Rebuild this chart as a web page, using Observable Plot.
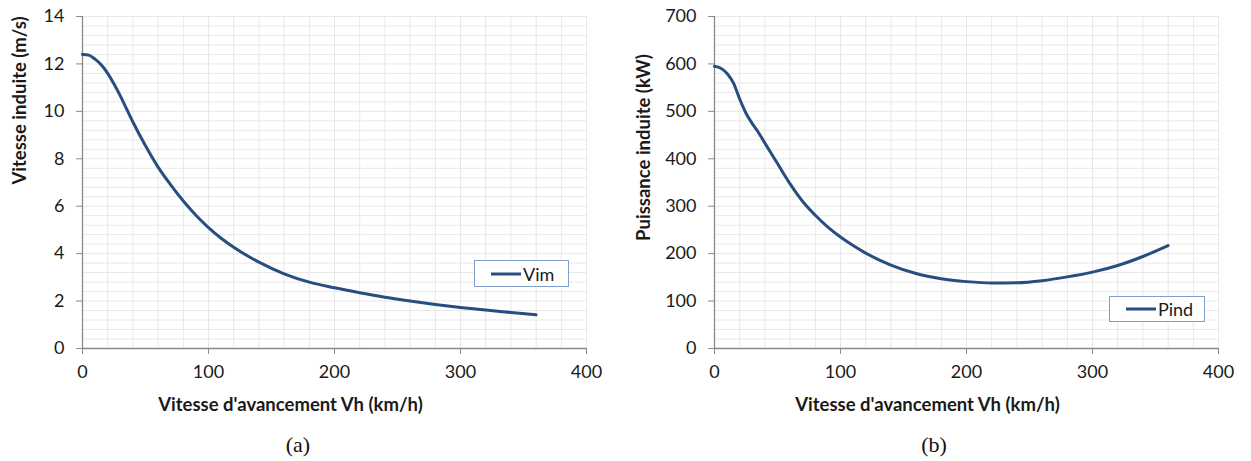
<!DOCTYPE html>
<html>
<head>
<meta charset="utf-8">
<script src="https://cdn.jsdelivr.net/npm/d3@7"></script>
<script src="https://cdn.jsdelivr.net/npm/@observablehq/plot@0.6"></script>
<style>
  html, body { margin: 0; padding: 0; background: #fff; }
  #root { position: relative; width: 1251px; height: 461px; overflow: hidden; font-family: Lato, sans-serif; }
  .panel { position: absolute; top: 0; }
  .caption { position: absolute; top: 432px; width: 60px; text-align: center; font-family: "Liberation Serif", serif; font-size: 22px; color: #111; }
  .legend { position: absolute; box-sizing: border-box; background: #fff; border: 1px solid #7f9fcc; display: flex; align-items: center; font-family: Lato, sans-serif; font-size: 18px; color: #1a1a1a; }
  .legend svg { margin-left: 16px; margin-right: 2px; }
</style>
</head>
<body>
<div id="root"></div>
<script>
// ---- data ----
const vh   = [0, 5, 10, 15, 20, 25, 30, 35, 40, 50, 60, 70, 80, 90, 100, 110, 120, 140, 160, 180, 200, 220, 240, 260, 280, 300, 320, 340, 360];
const vim  = [12.4, 12.37, 12.2, 11.95, 11.6, 11.15, 10.65, 10.1, 9.55, 8.55, 7.65, 6.9, 6.22, 5.62, 5.1, 4.65, 4.27, 3.64, 3.15, 2.8, 2.56, 2.35, 2.16, 2.0, 1.86, 1.73, 1.62, 1.52, 1.42];
const pind = [595, 591, 580, 560, 526, 496, 474, 455, 433, 390, 347, 310, 281, 256, 235, 217, 201, 176, 158, 147, 141, 138, 138.6, 143, 151, 161, 175, 194, 217];

const xTicks = [0, 100, 200, 300, 400];
const xGrid = d3.range(0, 401, 20);
const yTicksA = [0, 2, 4, 6, 8, 10, 12, 14];
const yGridA = d3.range(0, 14.01, 0.4);
const yTicksB = [0, 100, 200, 300, 400, 500, 600, 700];
const yGridB = d3.range(0, 701, 20);

const xLabel = "Vitesse d'avancement Vh (km/h)";
const yLabelA = "Vitesse induite (m/s)";
const yLabelB = "Puissance induite (kW)";
const seriesA = "Vim";
const seriesB = "Pind";
const captions = ["(a)", "(b)"];

const lineColor = "#264e80";
const gridColor = "#e8e8e8";
const axisColor = "#8a8a8a";
const textColor = "#1a1a1a";

function panel({width, marginLeft, marginRight, yDomain, yTicks, yGrid, ys, yLabel, yLabelDx, yLabelDy, xLabelDx}) {
  const data = vh.map((x, i) => ({x, y: ys[i]}));
  return Plot.plot({
    width, height: 420,
    marginLeft, marginRight, marginTop: 16, marginBottom: 72,
    style: {fontFamily: "Lato, sans-serif", fontSize: "18px", color: textColor, background: "#fff", overflow: "visible"},
    x: {domain: [0, 400]},
    y: {domain: yDomain},
    marks: [
      Plot.gridX(xGrid, {stroke: gridColor, strokeOpacity: 1}),
      Plot.gridY(yGrid, {stroke: gridColor, strokeOpacity: 1}),
      Plot.ruleX([0], {stroke: axisColor, strokeWidth: 1.3}),
      Plot.ruleY([0], {stroke: axisColor, strokeWidth: 1.3}),
      Plot.axisX(xTicks, {tickSize: 6, tickPadding: 11, stroke: axisColor, fill: textColor, label: null, fontSize: 18}),
      Plot.axisY(yTicks, {tickSize: 6, tickPadding: 12, stroke: axisColor, fill: textColor, label: null, fontSize: 18}),
      Plot.line(data, {x: "x", y: "y", stroke: lineColor, strokeWidth: 3, curve: "monotone-x"}),
      Plot.text([xLabel], {frameAnchor: "bottom", textAnchor: "middle", lineAnchor: "middle", dy: 57, dx: xLabelDx, fontWeight: "bold", fontSize: 18.5, fill: textColor}),
      Plot.text([yLabel], {frameAnchor: "left", textAnchor: "middle", lineAnchor: "middle", rotate: -90, dx: yLabelDx, dy: yLabelDy, fontWeight: "bold", fontSize: 18.5, fill: textColor})
    ]
  });
}

const root = document.getElementById("root");

const a = panel({width: 625, marginLeft: 82, marginRight: 39, yDomain: [0, 14], yTicks: yTicksA, yGrid: yGridA, ys: vim, yLabel: yLabelA, yLabelDx: -62, yLabelDy: -82, xLabelDx: -44});
a.classList.add("panel"); a.style.left = "0px";
root.appendChild(a);

const b = panel({width: 626, marginLeft: 89, marginRight: 33, yDomain: [0, 700], yTicks: yTicksB, yGrid: yGridB, ys: pind, yLabel: yLabelB, yLabelDx: -70, yLabelDy: -35, xLabelDx: -39});
b.classList.add("panel"); b.style.left = "625px";
root.appendChild(b);

function legend(name, left, top, w, h) {
  const d = document.createElement("div");
  d.className = "legend";
  d.style.left = left + "px"; d.style.top = top + "px";
  d.style.width = w + "px"; d.style.height = h + "px";
  d.innerHTML = `<svg width="30" height="6"><line x1="0" x2="30" y1="3" y2="3" stroke="${lineColor}" stroke-width="3"/></svg><span>${name}</span>`;
  root.appendChild(d);
}
legend(seriesA, 474, 260, 95, 27);
legend(seriesB, 1109, 296, 96, 26);

[[captions[0], 268], [captions[1], 904]].forEach(([t, left]) => {
  const c = document.createElement("div");
  c.className = "caption"; c.style.left = left + "px"; c.textContent = t;
  root.appendChild(c);
});
</script>
</body>
</html>
